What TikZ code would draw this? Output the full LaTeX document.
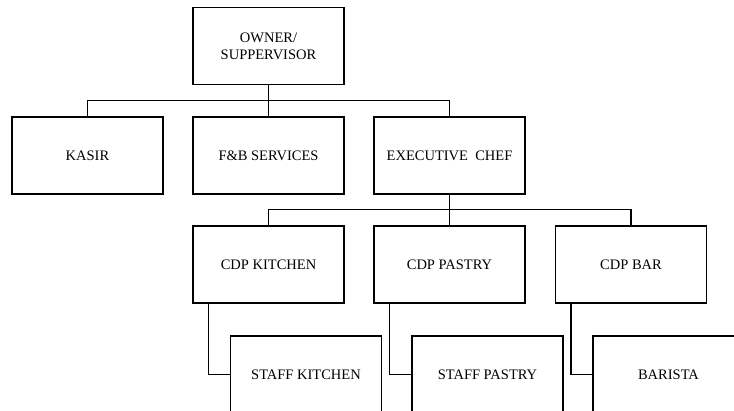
\documentclass[tikz,border=0pt]{standalone}
\usepackage{fontspec}
\setmainfont{Liberation Serif}
\begin{document}
\begin{tikzpicture}[x=1pt,y=-1pt,
  box/.style={draw,line width=1.5pt,rectangle,minimum width=151pt,minimum height=77pt,
    inner sep=0pt,align=center,font=\fontsize{14.5}{17}\selectfont},
  link/.style={line width=1.5pt}]
  \clip (0,0) rectangle (734,410);
  \fill[white] (0,0) rectangle (734,410);

  % top level
  \node[box] (owner) at (268.5,46) {OWNER/\\SUPPERVISOR};

  % second level
  \node[box] (kasir) at (87.5,155.5) {KASIR};
  \node[box] (fb) at (268.5,155.5) {F\&B SERVICES};
  \node[box] (exec) at (449.5,155.5) {EXECUTIVE\ \ CHEF};

  % kitchen sections
  \node[box] (ckit) at (268.5,264.5) {CDP KITCHEN};
  \node[box] (cpas) at (449.5,264.5) {CDP PASTRY};
  \node[box] (cbar) at (631,264.5) {CDP BAR};

  % staff
  \node[box] (skit) at (306,374.5) {STAFF KITCHEN};
  \node[box] (spas) at (487.5,374.5) {STAFF PASTRY};
  \node[box] (bari) at (668.5,374.5) {BARISTA};

  % connectors
  \draw[link] (owner.south) -- (fb.north);
  \draw[link] (kasir.north) -- ++(0,-16) -| (exec.north);
  \draw[link] (exec.south) -- (cpas.north);
  \draw[link] (ckit.north) -- ++(0,-16) -| (cbar.north);
  \draw[link] ([xshift=16pt]ckit.south west) |- (skit.west);
  \draw[link] ([xshift=16pt]cpas.south west) |- (spas.west);
  \draw[link] ([xshift=16pt]cbar.south west) |- (bari.west);
\end{tikzpicture}
\end{document}
